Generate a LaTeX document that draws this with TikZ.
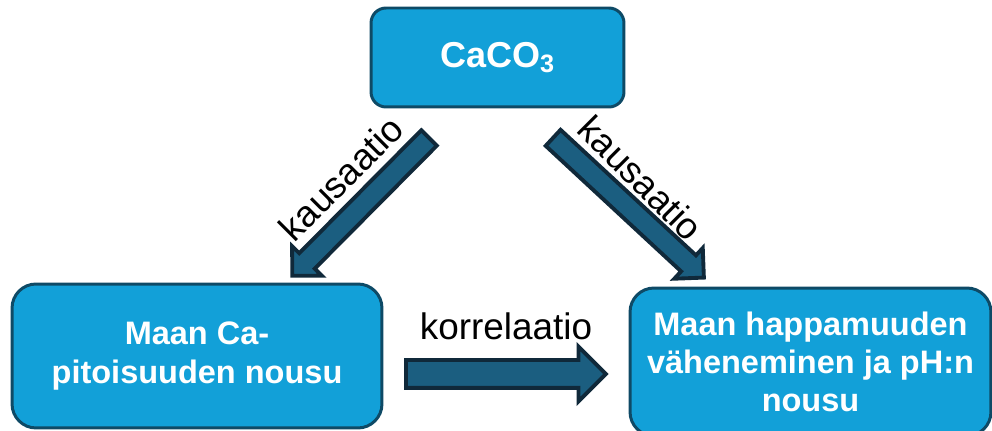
\documentclass[tikz,border=0pt]{standalone}
\usepackage{fontspec}
\setmainfont{Liberation Sans}
\usetikzlibrary{positioning,calc,shapes.arrows}

\definecolor{boxfill}{HTML}{12A0D8}
\definecolor{boxline}{HTML}{0E4A66}
\definecolor{arrowfill}{HTML}{1B5E80}
\definecolor{arrowline}{HTML}{10293A}

\begin{document}
\begin{tikzpicture}[x=0.02cm, y=-0.02cm]
	\useasboundingbox (0,0) rectangle (992,431);
	\clip (0,0) rectangle (992,431);
	\begin{scope}
		\tikzstyle{box}=[draw=boxline, fill=boxfill, line width=1.7pt, rounded corners=0.48cm, text=white, align=center, inner sep=0pt, font=\bfseries\fontsize{18.5}{21.8}\selectfont]
		\tikzstyle{blockarrow}=[single arrow, draw=arrowline, fill=arrowfill, line width=2.2pt, single arrow tip angle=90, single arrow head indent=0pt, inner xsep=0pt, sloped, allow upside down]
		\tikzstyle{lbl}=[inner sep=1pt, font=\fontsize{21}{25}\selectfont]

		\node[box, rounded corners=0.3cm, minimum width=5.06cm, minimum height=1.98cm, font=\bfseries\fontsize{20.5}{24}\selectfont] (caco) at (497.5, 57.5) {CaCO\textsubscript{3}};
		\node[box, minimum width=7.4cm, minimum height=2.88cm]  (ca)  at (197, 356)   {Maan Ca-\\pitoisuuden nousu};
		\node[box, minimum width=7.22cm, minimum height=2.96cm] (ph)  at (810.5, 362) {Maan happamuuden\\väheneminen ja pH:n\\nousu};

		\coordinate (l1) at (433, 134);
		\coordinate (l2) at (296, 272);
		\coordinate (r1) at (549, 134);
		\coordinate (r2) at (700, 274);
		\coordinate (h1) at (399, 374);
		\coordinate (h2) at (599, 374);

		\path let \p1=($(l2)-(l1)$), \n1={veclen(\x1,\y1)} in
			(l1) -- node[blockarrow, minimum height=\n1, inner ysep=0.18cm, single arrow head extend=0.2cm] (arrl) {} (l2);
		\path let \p1=($(r2)-(r1)$), \n1={veclen(\x1,\y1)} in
			(r1) -- node[blockarrow, minimum height=\n1, inner ysep=0.18cm, single arrow head extend=0.2cm] (arrr) {} (r2);
		\path let \p1=($(h2)-(h1)$), \n1={veclen(\x1,\y1)} in
			(h1) -- node[blockarrow, minimum height=\n1, inner ysep=0.24cm, single arrow head extend=0.27cm] (arrh) {} (h2);

		\node[lbl] (korr) at (506, 326) {korrelaatio};
		\node[lbl, rotate=45]  (kausl) at (341, 178) {kausaatio};
		\node[lbl, rotate=-45] (kausr) at (641, 178) {kausaatio};
	\end{scope}
\end{tikzpicture}
\end{document}
